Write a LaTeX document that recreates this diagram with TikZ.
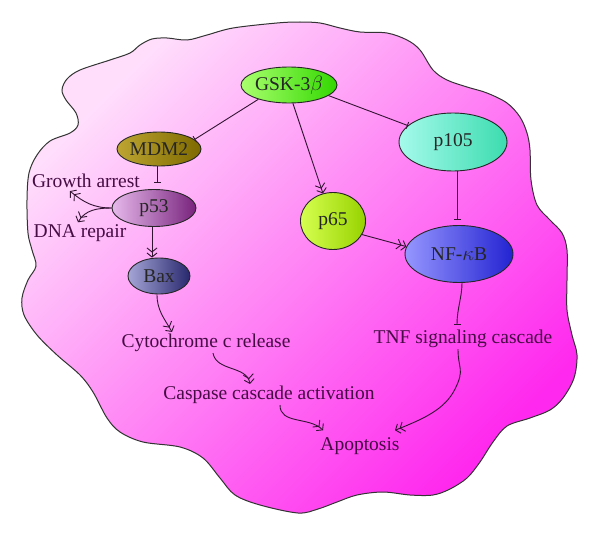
\documentclass[tikz,border=0pt]{standalone}
\usepackage{fontspec}
\setmainfont{Liberation Serif}
\usetikzlibrary{shapes.geometric,arrows.meta}
\definecolor{bgA}{RGB}{255,222,252}
\definecolor{bgB}{RGB}{255,40,238}
\definecolor{labc}{RGB}{70,12,68}
\definecolor{linec}{RGB}{50,20,50}
\begin{document}
\begin{tikzpicture}[x=1pt,y=1pt,
  every node/.style={font=\fontsize{19.5}{23}\selectfont},
  ell/.style={ellipse, draw=black!85, line width=0.9pt, inner sep=0pt, text=black!85},
  lbl/.style={text=labc, inner sep=1pt},
  act/.style={draw=linec, line width=0.9pt, -{Straight Barb[length=4pt,width=10pt] Straight Barb[length=4pt,width=10pt]}},
  inh/.style={draw=linec, line width=0.9pt, -{Bar[width=7pt,line width=0.9pt]}},
]
\useasboundingbox[fill=white] (0,0) rectangle (600,-535);
\draw[line width=1pt, draw=black!80, left color=bgA, right color=bgB, shading angle=45]
  plot[smooth cycle, tension=0.55] coordinates {
  (80,-70) (110,-60) (130,-53) (140,-45) (152,-39) (167,-38) (187,-40) (207,-35) (233,-28)
  (277,-23) (300,-22) (320,-23) (340,-28) (360,-32) (387,-33) (407,-40) (420,-50)
  (433,-70) (447,-80) (467,-87) (487,-93) (507,-103) (520,-117) (527,-133) (530,-150)
  (531,-180) (537,-205) (550,-220) (562,-233) (567,-250) (567,-280) (567,-310)
  (572,-335) (577,-355) (574,-378) (563,-398) (550,-410) (530,-418) (507,-426)
  (493,-442) (480,-462) (467,-478) (450,-489) (433,-495) (410,-495) (383,-492)
  (357,-495) (337,-502) (318,-509) (298,-513) (260,-505) (235,-495) (220,-478)
  (203,-458) (180,-447) (143,-442) (120,-432) (107,-418) (93,-392) (80,-375)
  (57,-355) (37,-335) (24,-315) (22,-298) (28,-280) (36,-266) (32,-250) (28,-233)
  (27,-200) (29,-173) (37,-155) (50,-141) (70,-133) (78,-125) (76,-113) (66,-100)
  (62,-90) (67,-79)};

% nodes
\node[ell, minimum width=82pt, minimum height=36pt, left color={rgb,255:red,170;green,255;blue,110}, right color={rgb,255:red,50;green,215;blue,0}] (gsk) at (289,-85) {GSK-3$\beta$};
\node[ell, minimum width=84pt, minimum height=34pt, left color={rgb,255:red,190;green,165;blue,50}, right color={rgb,255:red,125;green,105;blue,0}] (mdm2) at (159,-149) {MDM2};
\node[ell, minimum width=84pt, minimum height=37pt, left color={rgb,255:red,230;green,185;blue,235}, right color={rgb,255:red,120;green,35;blue,125}] (p53) at (154,-208) {p53};
\node[ell, minimum width=62pt, minimum height=36pt, left color={rgb,255:red,165;green,165;blue,215}, right color={rgb,255:red,40;green,40;blue,110}] (bax) at (159,-276) {Bax};
\node[ell, minimum width=65pt, minimum height=57pt, left color={rgb,255:red,215;green,255;blue,80}, right color={rgb,255:red,150;green,210;blue,0}] (p65) at (333,-221) {p65};
\node[ell, minimum width=108pt, minimum height=58pt, left color={rgb,255:red,165;green,250;blue,235}, right color={rgb,255:red,60;green,220;blue,175}] (p105) at (453,-142) {p105};
\node[ell, minimum width=108pt, minimum height=57pt, left color={rgb,255:red,150;green,150;blue,255}, right color={rgb,255:red,35;green,35;blue,210}] (nfkb) at (459,-254) {NF-$\kappa$B};

\node[lbl] (growth) at (86,-181) {Growth arrest};
\node[lbl] (dna) at (80,-233) {DNA repair};
\node[lbl] (cyto) at (206,-343) {Cytochrome c release};
\node[lbl] (casp) at (269,-395) {Caspase cascade activation};
\node[lbl] (tnf) at (463,-339) {TNF signaling cascade};
\node[lbl] (apop) at (360,-446) {Apoptosis};

% connectors
\draw[inh] (gsk.205) -- (mdm2.15);
\draw[act] (gsk.282) -- (p65.110);
\draw[inh] (gsk.345) -- (p105.160);
\draw[inh] ([xshift=-2pt]mdm2.south) -- ([xshift=-2pt,yshift=6pt]mdm2.south |- p53.north);
\draw[inh] ([xshift=4pt]p105.south) -- ([xshift=4pt,yshift=5pt]p105.south |- nfkb.north);
\draw[act] (p65.335) -- (nfkb.172);
\draw[act] (p53.west) to[out=180, in=-40] ([xshift=-16pt,yshift=-2pt]growth.south);
\draw[act] (p53.west) to[out=180, in=60] ([xshift=-2pt,yshift=1pt]dna.north);
\draw[act] ([xshift=-2pt]p53.south) -- ([xshift=-2pt]p53.south |- bax.north);
\draw[act] ([xshift=-2pt]bax.south) to[out=-90, in=120] ([xshift=-34pt,yshift=1pt]cyto.north);
\draw[act] ([xshift=7pt]cyto.south) to[out=-80, in=100] ([xshift=-19pt,yshift=1pt]casp.north);
\draw[act] ([xshift=11pt]casp.south) to[out=-90, in=135] ([xshift=-37pt,yshift=6pt]apop.north);
\draw[act] ([xshift=-5pt]tnf.south) .. controls +(0,-20) and +(10,20) .. ([xshift=-8pt,yshift=-40pt]tnf.south) .. controls +(-10,-20) and +(30,12) .. ([xshift=35pt,yshift=6pt]apop.north);
\draw[inh] ([xshift=3pt]nfkb.south) .. controls +(0,-14) and +(0,16) .. ([xshift=-6pt,yshift=4pt]tnf.north);
\end{tikzpicture}
\end{document}
